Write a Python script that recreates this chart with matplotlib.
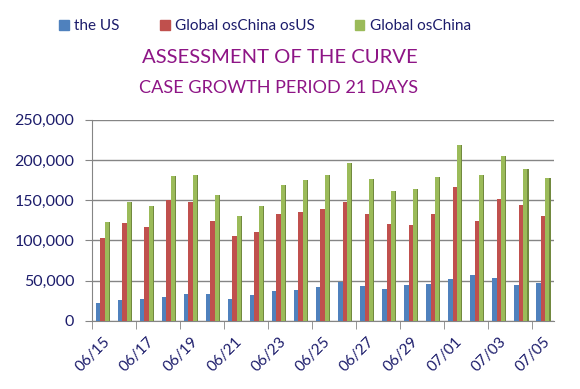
import matplotlib.pyplot as plt
import numpy as np
from matplotlib.patches import Patch
from matplotlib.ticker import FuncFormatter, MultipleLocator

plt.rcParams['font.family'] = ['Lato', 'DejaVu Sans']

dates = ['06/15', '06/16', '06/17', '06/18', '06/19', '06/20', '06/21',
         '06/22', '06/23', '06/24', '06/25', '06/26', '06/27', '06/28',
         '06/29', '06/30', '07/01', '07/02', '07/03', '07/04', '07/05']
us = [21700, 25800, 26700, 30000, 34000, 34000, 26700, 32000, 37000, 39000,
      41700, 47900, 43800, 40000, 44600, 45800, 51700, 57000, 53000, 45000, 46700]
global_ex_china_us = [103000, 122000, 117000, 150400, 148000, 124000, 105000,
                      111000, 132500, 136000, 138800, 148000, 132500, 121000,
                      119000, 132500, 167000, 124600, 152000, 144000, 130000]
global_ex_china = [122500, 147500, 143000, 180000, 181000, 157000, 131000,
                   142500, 169000, 175000, 181000, 196700, 176700, 161700,
                   163700, 179000, 219000, 182000, 205000, 189000, 177500]

names = ['the US', 'Global osChina osUS', 'Global osChina']
faces = ['#4F81BD', '#C0504D', '#9BBB59']
sides = ['#385D8A', '#8C3836', '#71893F']
navy = '#1C1C6B'
grid_c = '#858585'

fig = plt.figure(figsize=(5.8, 3.89), dpi=100)
ax = fig.add_axes([0.159, 0.175, 0.797, 0.517])

x = np.arange(len(dates)) + 0.5
w = 0.2
sw = 0.06
for k, vals in enumerate([us, global_ex_china_us, global_ex_china]):
    left = x - 0.33 + k * w
    ax.bar(left, vals, width=w, align='edge', color=faces[k], zorder=3)
    # darker strip on the right to mimic the 3D side face
    ax.bar(left + w - 0.01, vals, width=sw, align='edge', color=sides[k], zorder=2)

ax.set_xlim(0, 21)
ax.set_ylim(0, 250000)
ax.yaxis.set_major_locator(MultipleLocator(50000))
ax.yaxis.set_major_formatter(FuncFormatter(lambda v, p: f'{int(v):,}'))
ax.grid(axis='y', color=grid_c, linewidth=1, zorder=0)

ax.set_xticks(x[::2])
ax.set_xticklabels(dates[::2], rotation=45, ha='right', va='top',
                   rotation_mode='anchor')
ax.set_xticks(np.arange(0, 22, 2), minor=True)
ax.tick_params(axis='x', which='major', length=0, pad=10, labelsize=11, labelcolor=navy)
ax.tick_params(axis='x', which='minor', length=6, color=grid_c, direction='out')
ax.tick_params(axis='y', length=5, color=grid_c, labelsize=11.5, labelcolor=navy, pad=8)

for s in ['top', 'right']:
    ax.spines[s].set_visible(False)
for s in ['left', 'bottom']:
    ax.spines[s].set_color(grid_c)

handles = [Patch(color=c) for c in faces]
fig.legend(handles, names, loc='center', bbox_to_anchor=(0.457, 0.933), ncol=3,
           frameon=False, fontsize=11, labelcolor=navy, handlelength=0.65,
           handleheight=0.65, handletextpad=0.35, columnspacing=2.6)

title_c = '#8E1586'
fig.text(0.482, 0.853, 'ASSESSMENT OF THE CURVE', ha='center', va='center',
         fontsize=14.6, color=title_c)
fig.text(0.481, 0.773, 'CASE GROWTH PERIOD 21 DAYS', ha='center', va='center',
         fontsize=13.1, color=title_c)

fig.savefig('out.png', dpi=100)
